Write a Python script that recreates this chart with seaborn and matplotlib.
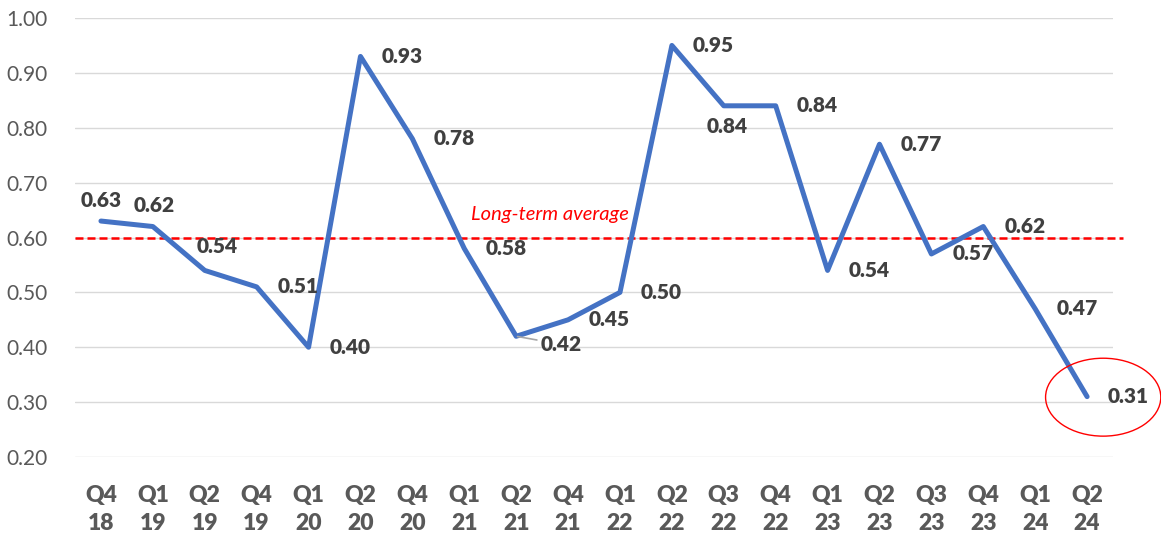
import matplotlib
matplotlib.use("Agg")
import matplotlib.pyplot as plt
from matplotlib.patches import Ellipse
import seaborn as sns
import pandas as pd

quarters = ["Q4\n18", "Q1\n19", "Q2\n19", "Q4\n19", "Q1\n20", "Q2\n20", "Q4\n20",
            "Q1\n21", "Q2\n21", "Q4\n21", "Q1\n22", "Q2\n22", "Q3\n22", "Q4\n22",
            "Q1\n23", "Q2\n23", "Q3\n23", "Q4\n23", "Q1\n24", "Q2\n24"]
values = [0.63, 0.62, 0.54, 0.51, 0.40, 0.93, 0.78, 0.58, 0.42, 0.45,
          0.50, 0.95, 0.84, 0.84, 0.54, 0.77, 0.57, 0.62, 0.47, 0.31]
long_term_average = 0.60
y_ticks = [0.20, 0.30, 0.40, 0.50, 0.60, 0.70, 0.80, 0.90, 1.00]

# label offsets in pixels (dx, dy) relative to each point; default is to the right
label_offsets = {0: (0, 21), 1: (1, 21), 2: (12, 24), 12: (3, -21)}

sns.set_theme(style="white")
plt.rcParams["font.family"] = ["Lato", "DejaVu Sans"]

df = pd.DataFrame({"quarter": quarters, "value": values})

fig = plt.figure(figsize=(11.61, 5.36), dpi=100)
ax = fig.add_axes([0.0646, 0.1474, 0.8941, 0.8190])

ax.set_ylim(0.20, 1.00)
ax.set_yticks(y_ticks)
ax.yaxis.grid(True, color="#d9d9d9", linewidth=1.0)
ax.set_axisbelow(True)

sns.lineplot(data=df, x="quarter", y="value", sort=False, color="#4472C4",
             linewidth=3.6, ax=ax, zorder=3)
ax.set_xlim(-0.5, len(quarters) - 0.5)

# long-term average reference line
ax.plot([-0.5, len(quarters) - 0.3], [long_term_average] * 2, color="#ff0000",
        linestyle=(0, (3.2, 1.6)), linewidth=1.8, clip_on=False, zorder=2)
ax.text(8.65, long_term_average + 0.042, "Long-term average", color="#ff0000",
        style="italic", fontsize=14.5, ha="center", va="center")

label_style = dict(va="center", fontsize=15, fontweight="heavy", color="#404040")
for i, v in enumerate(values):
    if i in label_offsets:
        dx, dy = label_offsets[i]
        ha = "center"
    else:
        dx, dy = 21, 0
        ha = "left"
    if i == 8:
        ax.annotate(f"{v:.2f}", xy=(i, v), xytext=(24, -8), textcoords="offset pixels",
                    ha="left", **label_style,
                    arrowprops=dict(arrowstyle="-", color="#a6a6a6", lw=1.2,
                                    shrinkA=0, shrinkB=1))
        continue
    ax.annotate(f"{v:.2f}", xy=(i, v), xytext=(dx, dy), textcoords="offset pixels",
                ha=ha, **label_style)

# highlight the latest reading
ax.add_patch(Ellipse((19.31, 0.309), 2.22, 0.142, fill=False, edgecolor="#ff0000",
                     linewidth=1.0, clip_on=False, zorder=4))

ax.set_xlabel("")
ax.set_ylabel("")
ax.tick_params(axis="y", length=0, labelsize=15, labelcolor="#595959", pad=20)
ax.tick_params(axis="x", length=0, labelsize=16.5, labelcolor="#595959", pad=20)
for lbl in ax.get_xticklabels():
    lbl.set_fontweight("heavy")
    lbl.set_linespacing(1.4)
ax.set_yticklabels([f"{t:.2f}" for t in y_ticks])
sns.despine(ax=ax, left=True, bottom=True)

fig.savefig("out.png", dpi=100, facecolor="white")
